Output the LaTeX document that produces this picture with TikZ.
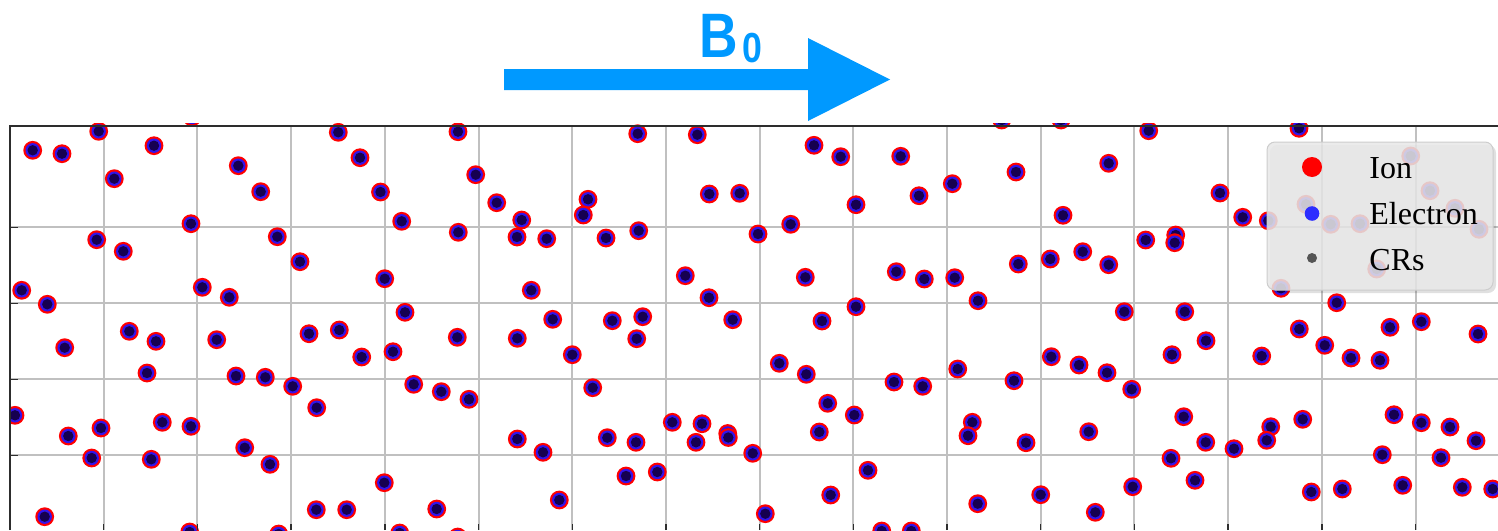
\documentclass[tikz,border=0pt]{standalone}
\usepackage{fontspec}
\setmainfont{Liberation Serif}
\newfontfamily\bfont{Liberation Sans}
\definecolor{ionred}{RGB}{255,0,0}
\definecolor{elblue}{RGB}{50,20,235}
\definecolor{crdark}{RGB}{22,0,80}
\definecolor{gridgray}{RGB}{192,192,192}
\definecolor{axisgray}{RGB}{45,45,45}
\definecolor{bblue}{RGB}{0,153,255}
\definecolor{legfill}{RGB}{232,232,232}
\definecolor{legedge}{RGB}{205,205,205}
\definecolor{legblue}{RGB}{45,45,255}
\definecolor{leggray}{RGB}{85,85,85}
\tikzset{
  gridline/.style={gridgray, line width=1pt},
  axisline/.style={axisgray, line width=0.7pt},
  legtext/.style={anchor=base west, inner sep=0pt, font=\fontsize{16}{18}\selectfont},
  btext/.style={anchor=base west, inner sep=0pt, text=bblue},
}
\begin{document}
\begin{tikzpicture}[x=0.5pt,y=-0.5pt]
\useasboundingbox (0,0) rectangle (1498,530);
% grid
\foreach \k in {1,...,15} \draw[gridline] ({10+93.7*\k},126) -- ({10+93.7*\k},530);
\foreach \y in {227.3,303.3,379.3,455.3} \draw[gridline] (10,\y) -- (1498,\y);
% particles
\begin{scope}
\clip (10,123) rectangle (1498,530);
\foreach \x/\y in {
32.7/150.3, 62/153.7, 98.7/131.3, 114.3/178.7, 154/145.7, 192/117, 238.3/165.7, 260.7/191.7,
338.3/132.3, 360/157.7, 380.5/192, 191/223.7, 96.7/239.7, 123.3/251.3, 277.3/236.7, 300/261.7,
21.7/290.3, 47.3/304.3, 202.3/287.3, 229.3/297.3, 384.7/278.7, 64.7/347.7, 129.3/331.3, 156/341.3,
147/373, 216.7/339.7, 236/376, 265.3/377.3, 292.7/386.3, 309/333.7, 339.3/330, 361.7/357,
316.7/407.7, 15/415.3, 68.3/436, 101/428, 91.7/458, 162.3/422.3, 191/426.3, 151.3/459.3,
244.7/447.7, 270/464.3, 384.3/482.7, 44.7/516.7, 316.3/509.7, 346.7/509.7, 189.7/532, 278.7/534,
458/131.7, 475.7/174.7, 401.7/221.3, 458.3/232.3, 496.7/202.7, 521.7/220, 517/237, 546.7/238.7,
588/199.3, 583.3/215, 606/238, 638.7/230.7, 637.7/133.7, 697.3/134.7, 709.3/194, 739.7/193.3,
531.3/290.3, 685.3/275.7, 709/297.7, 405/312.3, 552.7/319.3, 612.3/320.7, 642.7/316.7, 732.7/319.7,
457.3/337.3, 393/351.7, 517.3/338.3, 572.3/354.7, 636.7/338.7, 413.7/384.3, 441.3/391.7, 469/399.3,
592.7/387.7, 517.3/439, 543/452.3, 607.3/437.7, 636/442.3, 672.3/422.3, 702/423.7, 696/442.3,
727.7/433.5, 728.3/437.5, 752.7/453.3, 626/476, 657.3/472, 436.7/509, 559.3/500, 399.7/533, 457.7/537,
1001.7/120, 1061/120, 814/145.3, 840.7/156.7, 900.7/156.3, 856/204.7, 919/195.7, 952.3/183.7,
1016/172, 1108.7/163.3, 1063/215.3, 758/234, 790.7/224.3, 805.3/277.3, 896.3/271.7, 924.3/279,
954.7/277.7, 1018.3/264, 1050.3/259, 1082.7/251.7, 1108.7/264.7, 978/300.7, 856/306.7, 822/321,
1124.3/311.7, 779.3/363.3, 806.3/374.3, 894/382, 922.7/386.3, 957.7/369, 1014/380.7, 1051.3/356.7,
1079/365, 1107/372.7, 827.7/403.3, 854.3/415, 819.3/432, 972.3/422.3, 968/435.7, 1026/442.7,
1088.7/431.7, 868/470.3, 830.7/495, 765.3/513.7, 977.7/503.7, 1040.7/494.7, 1095.3/512.3, 881.7/531, 911.3/531,
1148.7/130.7, 1299/128.3, 1220/193, 1242.7/217.3, 1268.3/220.7, 1410.7/156, 1430/190.7, 1306/204.3,
1330.7/224.3, 1360/223.7, 1455/208.3, 1479/229.3, 1376.7/269, 1281/288.3, 1145.7/240, 1175.7/235,
1174.7/242.7, 1184.7/311.7, 1336.7/302.7, 1299.3/329, 1390/327.3, 1421.3/321.7, 1478/334,
1206/340.7, 1172/354.7, 1261.7/356, 1324.7/345.3, 1351/358, 1380/360.3, 1131.7/389.3, 1183.7/416.7,
1205.7/442.3, 1171/458.3, 1234/448.7, 1270.7/426.7, 1266.7/440.3, 1302.7/419.3, 1394/414.7, 1421.3/422.7,
1450/427, 1476/440.7, 1382.3/454.7, 1441/457.7, 1132.7/486.7, 1195/480.3, 1311.3/492, 1342.3/489,
1402.7/485.3, 1462.3/487.3, 1492.7/489}
{
  \fill[ionred] (\x,\y) circle[radius=9.4];
  \fill[elblue] (\x,\y) circle[radius=7.2];
  \fill[crdark] (\x,\y) circle[radius=5.2];
}
\end{scope}
% axes frame and ticks
\draw[axisline] (10,530) -- (10,126) -- (1498,126);
\foreach \y in {227.3,303.3,379.3,455.3} \draw[axisline] (10,\y) -- (18,\y);
\foreach \k in {1,...,15} \draw[axisline] ({10+93.7*\k},530) -- ({10+93.7*\k},524);
% legend
\fill[black, opacity=0.12, rounded corners=4] (1270,145) rectangle (1496,293);
\fill[legfill, fill opacity=0.86, rounded corners=4] (1267,142) rectangle (1493,290);
\draw[legedge, line width=0.5pt, rounded corners=4] (1267,142) rectangle (1493,290);
\fill[ionred] (1312,167) circle[radius=10];
\fill[legblue] (1312,213.5) circle[radius=7.3];
\fill[leggray] (1312,258) circle[radius=5];
\node[legtext] (ion) at (1369,178) {Ion};
\node[legtext] (electron) at (1369,224.5) {Electron};
\node[legtext] (crs) at (1369,270.5) {CRs};
% B0 arrow
\fill[bblue] (504,69) -- (808,69) -- (808,38) -- (890,79.5) -- (808,121) -- (808,90) -- (504,90) -- cycle;
\node[btext, font=\bfont\bfseries\fontsize{31.4}{36}\selectfont] (bsym) at (699,57) {\scalebox{0.85}[1]{B}};
\node[btext, font=\bfont\bfseries\fontsize{21}{24}\selectfont] (bsub) at ([xshift=2pt,yshift=-2.5pt]bsym.base east) {\scalebox{0.85}[1]{0}};
\end{tikzpicture}
\end{document}
